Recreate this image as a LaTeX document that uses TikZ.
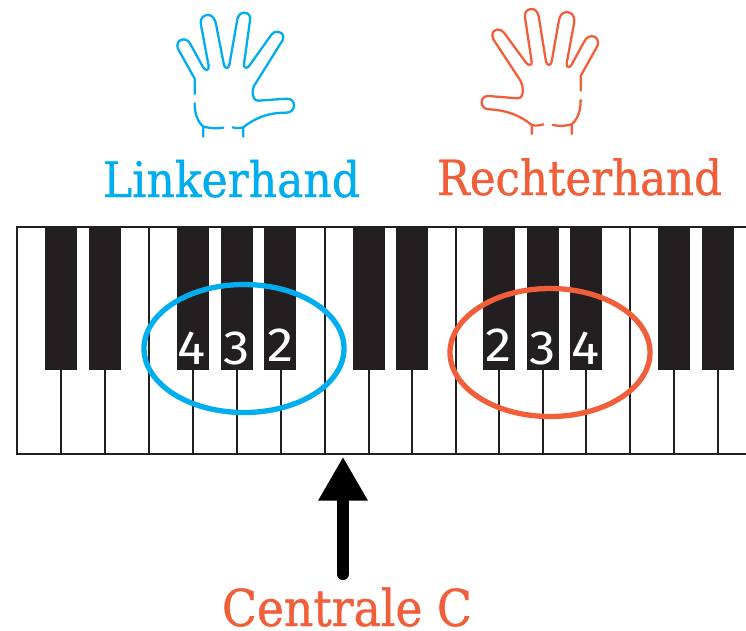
\documentclass[tikz,border=0pt]{standalone}
\usepackage{fontspec}
\setmainfont[RawFeature={embolden=0.8}]{DejaVu Serif Condensed}
\newfontfamily\digitfont{Fira Sans}
\definecolor{keyblack}{HTML}{231F20}
\definecolor{lhblue}{HTML}{00AEEF}
\definecolor{rhred}{HTML}{F15F3A}
\tikzset{
  blackkey/.style={fill=keyblack,draw=none},
  keyline/.style={draw=keyblack,line width=1.8pt},
  ringline/.style={line width=5.3pt,fill=none},
  handline/.style={line width=2.3pt,line cap=round,line join=round},
  digit/.style={text=white,font=\digitfont\fontsize{48}{48}\selectfont,inner sep=0pt,anchor=base},
  lbl/.style={font=\fontsize{48}{48}\selectfont,inner sep=0pt,anchor=base}
}
\newcommand{\wdg}[1]{\scalebox{1.1}[1]{#1}}
\begin{document}
\begin{tikzpicture}[x=1pt,y=-1pt]
\useasboundingbox (0,0) rectangle (746,630);
\fill[white] (0,0) rectangle (746,630);
% full height separators
\foreach \x in {149,325,456,630} \draw[keyline] (\x,227) -- (\x,454);
% lower separators
\foreach \x in {61,105,193,237,281,369,412,499,543,586,674,718} \draw[keyline] (\x,370) -- (\x,454);
\draw[keyline] (746,227) -- (17,227) -- (17,454) -- (746,454);
% black keys
\foreach \x in {45,89,177,221,264,353,396,483,527,570,658,702}
  \fill[blackkey] (\x,227) rectangle ++(32,143);
% digits
\node[digit] (d4l) at (192,364.5) {\wdg{4}};
\node[digit] (d3l) at (237,364.5) {\wdg{3}};
\node[digit] (d2l) at (281,361) {\wdg{2}};
\node[digit] (d2r) at (499,361) {\wdg{2}};
\node[digit] (d3r) at (543,364.5) {\wdg{3}};
\node[digit] (d4r) at (586,364.5) {\wdg{4}};
% rings
\draw[ringline,draw=lhblue] (244,348.5) ellipse [x radius=100,y radius=64];
\draw[ringline,draw=rhred] (550,352.5) ellipse [x radius=100,y radius=64];
% left hand
\begin{scope}[xshift=160pt,x=0.3333pt,y=-0.3333pt,handline,draw=lhblue]
\draw (104,282) -- (104,236) -- (56,150)
  .. controls (46,130) and (56,118) .. (72,118)
  .. controls (82,118) and (86,124) .. (92,134)
  -- (130,203) .. controls (136,213) and (148,212) .. (146,198)
  -- (123,75) .. controls (118,50) and (135,45) .. (145,45)
  .. controls (158,45) and (165,58) .. (168,72)
  -- (192,195) .. controls (195,207) and (205,207) .. (208,195)
  -- (232,58) .. controls (235,45) and (243,38) .. (252,38)
  .. controls (265,38) and (274,48) .. (270,62)
  -- (252,192) .. controls (250,205) and (262,207) .. (268,197)
  -- (335,103) .. controls (345,90) and (368,92) .. (370,112)
  .. controls (370,120) and (366,125) .. (360,133)
  -- (282,258) .. controls (275,270) and (275,302) .. (295,302)
  -- (380,296) .. controls (395,296) and (402,305) .. (402,316)
  .. controls (402,330) and (392,338) .. (378,338)
  .. controls (330,338) and (290,350) .. (250,382)
  -- (250,410);
\draw (250,382) .. controls (240,385) and (228,385) .. (218,382);
\draw (190,383) .. controls (170,386) and (150,385) .. (130,380) -- (130,410);
\draw (130,380) .. controls (112,365) and (104,340) .. (104,310);
\end{scope}
% right hand
\begin{scope}[xshift=470pt,x=0.3333pt,y=-0.3333pt,handline,draw=rhred]
\draw (332,272) -- (332,228) -- (380,142)
  .. controls (392,122) and (378,108) .. (364,108)
  .. controls (354,108) and (348,116) .. (342,126)
  -- (306,192) .. controls (300,205) and (288,204) .. (290,190)
  -- (313,65) .. controls (316,45) and (300,36) .. (291,36)
  .. controls (278,36) and (270,46) .. (267,60)
  -- (245,185) .. controls (242,198) and (231,198) .. (228,185)
  -- (206,48) .. controls (202,34) and (195,27) .. (185,27)
  .. controls (170,27) and (163,38) .. (165,52)
  -- (185,185) .. controls (187,197) and (175,198) .. (168,188)
  -- (102,98) .. controls (92,84) and (68,84) .. (67,106)
  .. controls (67,116) and (72,122) .. (78,130)
  -- (150,240) .. controls (160,255) and (165,295) .. (143,295)
  -- (55,288) .. controls (42,288) and (35,296) .. (35,307)
  .. controls (35,320) and (44,328) .. (58,328)
  .. controls (105,330) and (150,345) .. (185,375)
  -- (185,402);
\draw (185,375) .. controls (195,378) and (208,377) .. (220,373);
\draw (248,375) .. controls (268,379) and (288,378) .. (305,373) -- (305,402);
\draw (305,373) .. controls (322,358) and (332,335) .. (332,300);
\end{scope}
% labels
\node[lbl,text=lhblue] (lh) at (231.5,197) {\resizebox{257pt}{!}{Linkerhand}};
\node[lbl,text=rhred] (rh) at (579.5,195) {\resizebox{285pt}{!}{Rechterhand}};
\node[lbl,text=rhred] (cc) at (347,626) {\resizebox{250pt}{!}{Centrale C}};
% arrow
\coordinate (atail) at (343,574);
\coordinate (atip) at (343,457.5);
\fill[black] (atip) -- (368,500.7) -- (318,500.7) -- cycle;
\draw[black,line width=12pt,line cap=round] (atail) -- (343,500);
\end{tikzpicture}
\end{document}
